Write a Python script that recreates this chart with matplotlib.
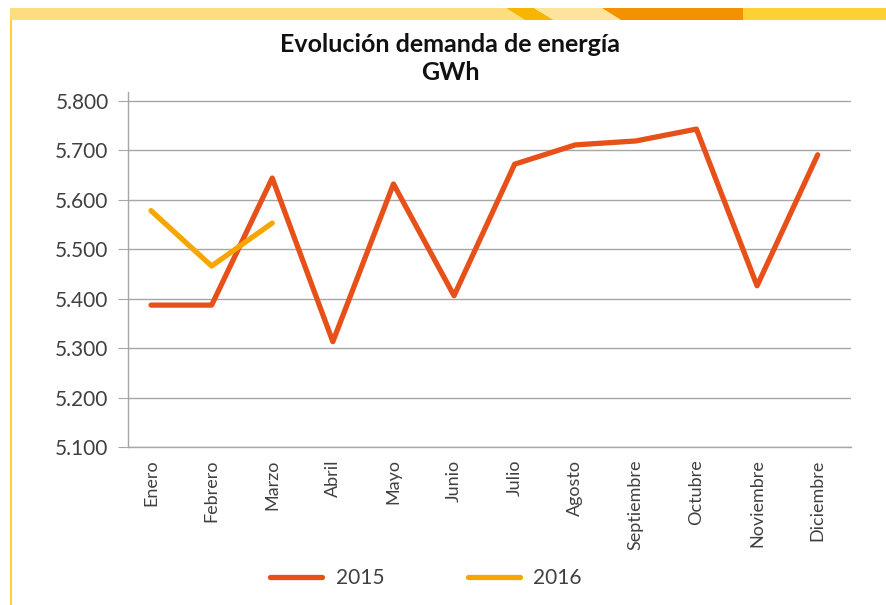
import numpy as np
import matplotlib
matplotlib.use("Agg")
import matplotlib.pyplot as plt
from matplotlib.patches import Polygon, Rectangle

# Data
months = ['Enero', 'Febrero', 'Marzo', 'Abril', 'Mayo', 'Junio', 'Julio',
          'Agosto', 'Septiembre', 'Octubre', 'Noviembre', 'Diciembre']
demand_2015 = [5.387, 5.387, 5.644, 5.313, 5.632, 5.406, 5.672,
               5.711, 5.719, 5.743, 5.426, 5.691]
demand_2016 = [5.578, 5.466, 5.553]
y_ticks = [5.1, 5.2, 5.3, 5.4, 5.5, 5.6, 5.7, 5.8]
y_tick_labels = ['5.100', '5.200', '5.300', '5.400', '5.500', '5.600', '5.700', '5.800']

W, H = 886, 605
C2015 = '#E8501A'
C2016 = '#F7A600'
GRID = '#A6A6A6'
TXT = '#404040'

plt.rcParams['font.family'] = ['Lato', 'DejaVu Sans']

fig = plt.figure(figsize=(W / 100, H / 100), dpi=100)


def px(x0, y0):
    # pixel (from top-left) to figure fraction
    return (x0 / W, 1 - y0 / H)


# decorative frame: top band and left line
band = [
    ([(10, 8), (506, 8), (525, 20), (10, 20)], '#FEDC80'),
    ([(506, 8), (534, 8), (554, 20), (525, 20)], '#F8B500'),
    ([(534, 8), (602, 8), (621, 20), (554, 20)], '#FEE39C'),
    ([(602, 8), (743, 8), (743, 20), (621, 20)], '#F39200'),
    ([(743, 8), (886, 8), (886, 20), (743, 20)], '#FDD133'),
]
for pts, col in band:
    fig.patches.append(Polygon([px(*p) for p in pts], closed=True, facecolor=col,
                               edgecolor='none', transform=fig.transFigure, figure=fig))
x0, y0 = px(10, 605)
fig.patches.append(Rectangle((x0, y0), 2 / W, (605 - 20) / H, facecolor='#FFD133',
                             edgecolor='none', transform=fig.transFigure, figure=fig))

ax = fig.add_axes([128 / W, 1 - 447 / H, (851 - 128) / W, (447 - 92) / H])
x = np.arange(len(months))
ax.plot(x, demand_2015, color=C2015, lw=3.8, solid_capstyle='round',
        solid_joinstyle='round', label='2015', zorder=3)
ax.plot(x[:len(demand_2016)], demand_2016, color=C2016, lw=3.8,
        solid_capstyle='round', solid_joinstyle='round', label='2016', zorder=3)

ax.set_xlim(-0.38, 11.55)
ax.set_ylim(5.1, 5.818)
ax.set_yticks(y_ticks)
ax.set_yticklabels(y_tick_labels)
ax.set_xticks(x)
ax.set_xticklabels(months, rotation=90)
ax.grid(axis='y', color=GRID, lw=1.0)
ax.set_axisbelow(True)
for s in ['top', 'right']:
    ax.spines[s].set_visible(False)
ax.spines['left'].set_color(GRID)
ax.spines['bottom'].set_color(GRID)
ax.spines['left'].set_linewidth(1.0)
ax.spines['bottom'].set_linewidth(1.0)
ax.tick_params(axis='y', length=7, color=GRID, labelsize=15, labelcolor=TXT, pad=7)
ax.tick_params(axis='x', length=0, labelsize=13, labelcolor=TXT, pad=9)

fig.text(0.508, 1 - 45 / H, 'Evolución demanda de energía', ha='center', va='center',
         fontsize=18, fontweight='bold', color='#111111')
fig.text(0.508, 1 - 73 / H, 'GWh', ha='center', va='center',
         fontsize=18, fontweight='bold', color='#111111')

fig.legend(loc='center', bbox_to_anchor=(426 / W, 1 - 578 / H), ncol=2, frameon=False,
           prop={'size': 15}, handlelength=2.5, handletextpad=0.65,
           columnspacing=4.0, labelcolor=TXT)

fig.savefig('out.png', dpi=100)
